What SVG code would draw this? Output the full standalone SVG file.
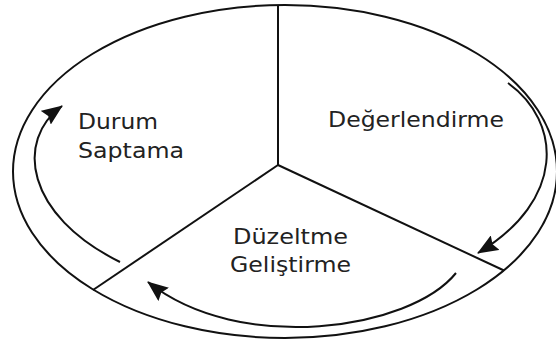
<svg xmlns="http://www.w3.org/2000/svg" width="556" height="345" viewBox="0 0 556 345">
<style>
.ln{fill:none;stroke:#111;stroke-width:2}
.ar{fill:none;stroke:#111;stroke-width:2;marker-end:url(#ah)}
.t{font-family:"DejaVu Sans",sans-serif;font-size:21px;fill:#222}
</style>
<defs>
<marker id="ah" markerWidth="21" markerHeight="17" refX="20" refY="8.5" orient="auto" markerUnits="userSpaceOnUse">
<path d="M0,0 L21,8.5 L0,17 L3,8.5 Z" fill="#111"/>
</marker>
</defs>
<rect width="556" height="345" fill="#fff"/>
<g id="frame">
<ellipse class="ln" cx="285" cy="171.5" rx="272" ry="166.5"/>
</g>
<g id="connectors">
<line class="ln" x1="278" y1="5" x2="278" y2="165"/>
<line class="ln" x1="278" y1="165" x2="504" y2="270.5"/>
<line class="ln" x1="278" y1="165" x2="93" y2="290"/>
<path class="ar" d="M508,83 C562,122 566,200 478,253"/>
<path class="ar" d="M456,273 C410,330 240,355 148,282"/>
<path class="ar" d="M120,262 C25,215 15,140 62,106"/>
</g>
<g id="durum">
<text class="t" x="78" y="129" textLength="80" lengthAdjust="spacingAndGlyphs">Durum</text>
<text class="t" x="78" y="158" textLength="106" lengthAdjust="spacingAndGlyphs">Saptama</text>
</g>
<g id="degerlendirme">
<text class="t" x="328" y="127" textLength="176" lengthAdjust="spacingAndGlyphs">Değerlendirme</text>
</g>
<g id="duzeltme">
<text class="t" x="233" y="244" textLength="115" lengthAdjust="spacingAndGlyphs">Düzeltme</text>
<text class="t" x="230" y="272" textLength="121" lengthAdjust="spacingAndGlyphs">Geliştirme</text>
</g>
</svg>
